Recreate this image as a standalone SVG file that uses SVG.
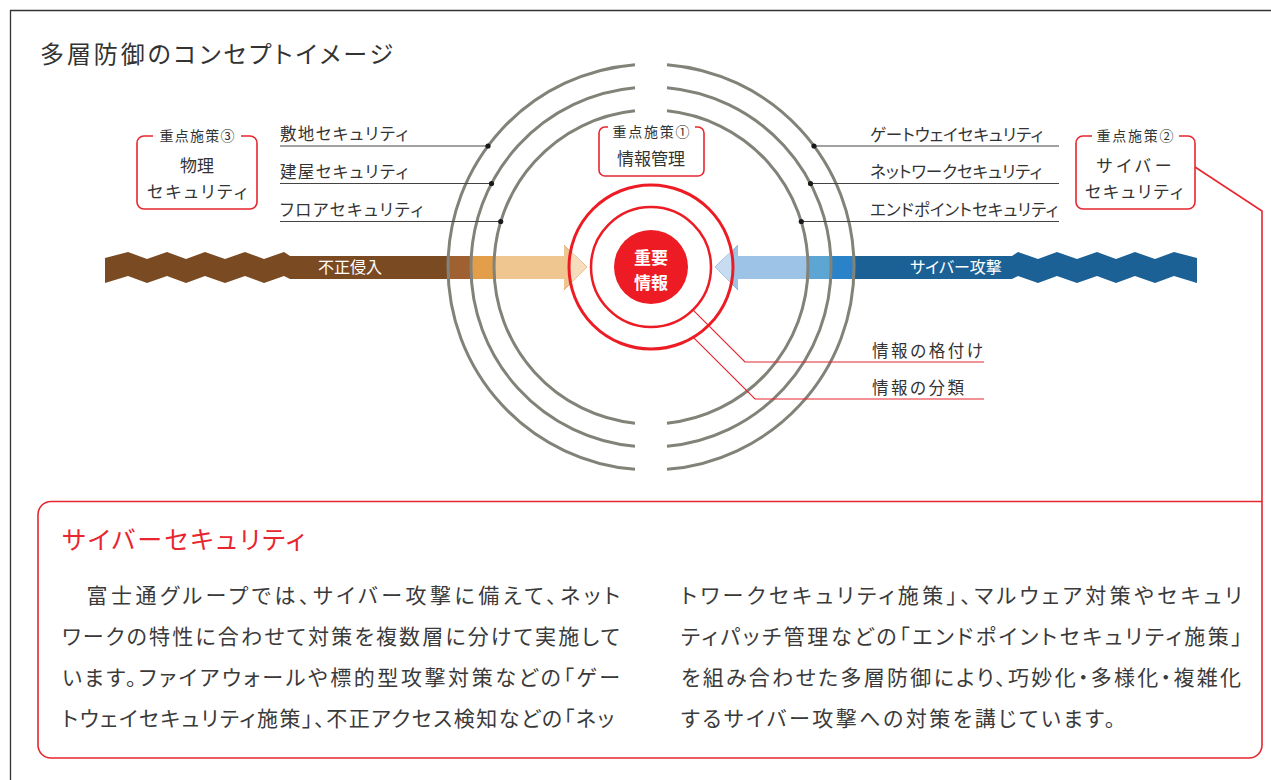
<svg xmlns="http://www.w3.org/2000/svg" width="1271" height="780" viewBox="0 0 1271 780">
<style>
text{font-family:"Noto Sans CJK JP","Noto Sans",sans-serif;font-feature-settings:"palt" 1;fill:#333}
.ring{fill:none;stroke:#828279;stroke-width:3}
.lbl{font-size:16.5px}
.ln{stroke:#444;stroke-width:1.2;fill:none}
.dot{fill:#1a1a1a}
.rbox{fill:#fff;stroke:#e8262f;stroke-width:1.6}
.tag{font-size:14px;text-anchor:middle}
.bt{font-size:17px;text-anchor:middle}
.red{stroke:#e8262f;fill:none}
.body{font-size:21px;fill:#3a3a3a}
.wt{fill:#fff;font-size:16px}
</style>
<defs>
<clipPath id="c1"><circle cx="651" cy="267" r="203"/></clipPath>
<clipPath id="c2"><circle cx="651" cy="267" r="180"/></clipPath>
<clipPath id="c3"><circle cx="651" cy="267" r="157"/></clipPath>
<clipPath id="c4"><circle cx="651" cy="267" r="82"/></clipPath>
<path id="arr" d="M105,258 L128,252 L147,259 L167,252 L186,259 L205,252 L225,259 L245,252 L264,259 L284,252 L290,256 L564,256 L564,245 L587,267 L564,290 L564,279 L290,279 L284,276 L264,283 L245,276 L225,283 L205,276 L186,283 L167,276 L147,283 L128,276 L105,283 Z"/>
</defs>
<rect width="1271" height="780" fill="#fff"/>
<g id="frame" fill="none" stroke="#333" stroke-width="1.3">
<path d="M10.5,780 V10.5 H1271"/>
</g>
<g id="title"><text x="40" y="63" font-size="24" textLength="353">多層防御のコンセプトイメージ</text></g>

<g id="arrow-left">
<use href="#arr" fill="#7a4a22"/>
<use href="#arr" fill="#9f6132" clip-path="url(#c1)"/>
<use href="#arr" fill="#e39e4a" clip-path="url(#c2)"/>
<use href="#arr" fill="#efc590" clip-path="url(#c3)"/>
<use href="#arr" fill="#f6ddbb" clip-path="url(#c4)"/>
<text class="wt" x="350" y="273" text-anchor="middle">不正侵入</text>
</g>
<g id="arrow-right">
<g transform="translate(1302,0) scale(-1,1)">
<use href="#arr" fill="#1c6195"/>
<use href="#arr" fill="#2a83c8" clip-path="url(#c1)"/>
<use href="#arr" fill="#5da6d3" clip-path="url(#c2)"/>
<use href="#arr" fill="#9dc3e7" clip-path="url(#c3)"/>
<use href="#arr" fill="#c7dcf1" clip-path="url(#c4)"/>
</g>
<text class="wt" x="956" y="273" text-anchor="middle">サイバー攻撃</text>
</g>

<g id="rings">
<path class="ring" d="M667,64.63 A203,203 0 0 1 667,469.37 M635,469.37 A203,203 0 0 1 635,64.63"/>
<path class="ring" d="M667,87.71 A180,180 0 0 1 667,446.29 M635,446.29 A180,180 0 0 1 635,87.71"/>
<path class="ring" d="M667,110.82 A157,157 0 0 1 667,423.18 M635,423.18 A157,157 0 0 1 635,110.82"/>
</g>

<g id="connectors">
<path class="ln" d="M280,146 H488 M280,183.5 H491.5 M280,221.5 H500.7 M814,146 H1059 M810.5,183.5 H1059 M801.3,221.5 H1059"/>
<circle class="dot" cx="488" cy="146" r="2.6"/>
<circle class="dot" cx="491.5" cy="183.5" r="2.6"/>
<circle class="dot" cx="500.7" cy="221.5" r="2.6"/>
<circle class="dot" cx="814" cy="146" r="2.6"/>
<circle class="dot" cx="810.5" cy="183.5" r="2.6"/>
<circle class="dot" cx="801.3" cy="221.5" r="2.6"/>
<polyline class="red" stroke-width="1.2" points="692.9,309.9 745,362 984,362"/>
<polyline class="red" stroke-width="1.2" points="693.3,337.3 755,399 984,399"/>
<polyline class="red" stroke-width="1.6" points="1195,167 1262,211 1262,502"/>
</g>

<g id="labels">
<text class="lbl" x="280" y="140" textLength="128">敷地セキュリティ</text>
<text class="lbl" x="280" y="178" textLength="128">建屋セキュリティ</text>
<text class="lbl" x="280" y="216" textLength="143">フロアセキュリティ</text>
<text class="lbl" x="870" y="141" textLength="173">ゲートウェイセキュリティ</text>
<text class="lbl" x="870" y="178" textLength="172">ネットワークセキュリティ</text>
<text class="lbl" x="870" y="216" textLength="188">エンドポイントセキュリティ</text>
<text class="lbl" x="872" y="357" textLength="111">情報の格付け</text>
<text class="lbl" x="872" y="394" textLength="92">情報の分類</text>
</g>

<g id="core">
<circle cx="651" cy="267" r="82" fill="none" stroke="#ed1c24" stroke-width="3"/>
<circle cx="651" cy="267" r="60" fill="none" stroke="#ed1c24" stroke-width="2.5"/>
<circle cx="651" cy="267" r="37" fill="#ed1c24"/>
<text x="651" y="263.5" font-size="17" font-weight="bold" text-anchor="middle" style="fill:#fff">重要</text>
<text x="651" y="288.5" font-size="17" font-weight="bold" text-anchor="middle" style="fill:#fff">情報</text>
</g>

<g id="node-info-mgmt">
<path class="rbox" d="M608,127 H605 A6,6 0 0 0 599,133 V170 A6,6 0 0 0 605,176 H698 A6,6 0 0 0 704,170 V133 A6,6 0 0 0 698,127 H695"/>
<text class="tag" x="651" y="137" textLength="77">重点施策①</text>
<text class="bt" x="651" y="165" font-size="18">情報管理</text>
</g>
<g id="node-physical">
<path class="rbox" d="M153,136 H144 A7,7 0 0 0 137,143 V202 A7,7 0 0 0 144,209 H250 A7,7 0 0 0 257,202 V143 A7,7 0 0 0 250,136 H241"/>
<text class="tag" x="197" y="141" textLength="75">重点施策③</text>
<text class="bt" x="197" y="172">物理</text>
<text class="bt" x="197" y="197.5" textLength="100">セキュリティ</text>
</g>
<g id="node-cyber">
<path class="rbox" d="M1092,136 H1083 A7,7 0 0 0 1076,143 V202 A7,7 0 0 0 1083,209 H1188 A7,7 0 0 0 1195,202 V143 A7,7 0 0 0 1188,136 H1179"/>
<text class="tag" x="1135" y="141" textLength="77">重点施策②</text>
<text class="bt" x="1134" y="172" textLength="75">サイバー</text>
<text class="bt" x="1134" y="197.5" textLength="98">セキュリティ</text>
</g>

<g id="node-textbox">
<path class="rbox" fill="none" d="M1262,501.5 H51 A13,13 0 0 0 38,514.5 V745 A13,13 0 0 0 51,758 H1249 A13,13 0 0 0 1262,745 V501.5" stroke-width="1.8"/>
<text x="62" y="549" font-size="25" textLength="243" style="fill:#e8262f">サイバーセキュリティ</text>
<text class="body" x="62" y="603" textLength="558">　富士通グループでは、サイバー攻撃に備えて、ネット</text>
<text class="body" x="62" y="644" textLength="558">ワークの特性に合わせて対策を複数層に分けて実施して</text>
<text class="body" x="62" y="685" textLength="558">います。ファイアウォールや標的型攻撃対策などの「ゲー</text>
<text class="body" x="62" y="726" textLength="552">トウェイセキュリティ施策」、不正アクセス検知などの「ネッ</text>
<text class="body" x="681" y="603" textLength="561">トワークセキュリティ施策」、マルウェア対策やセキュリ</text>
<text class="body" x="681" y="644" textLength="561">ティパッチ管理などの「エンドポイントセキュリティ施策」</text>
<text class="body" x="681" y="685" textLength="560">を組み合わせた多層防御により、巧妙化・多様化・複雑化</text>
<text class="body" x="681" y="726" textLength="434">するサイバー攻撃への対策を講じています。</text>
</g>
</svg>
